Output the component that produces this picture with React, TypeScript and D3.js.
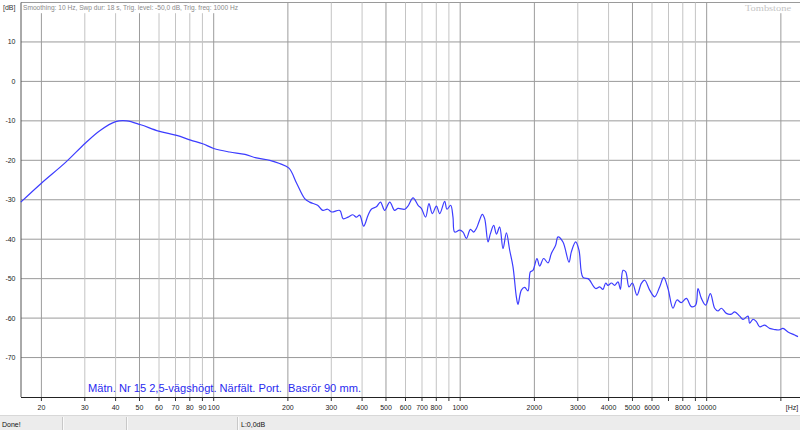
import React from "react";
import * as d3 from "d3";

const freqHz = [16.5, 20, 25, 30.2, 34.5, 40, 44.4, 50.6, 59.8, 70.8, 80.6, 90.2, 100, 116, 134, 149, 169, 185, 202, 217, 234, 245, 264, 277, 290, 301, 325, 335, 351, 367, 379, 391, 406, 423, 436, 457, 475, 494, 518, 542, 559, 596, 614, 644, 675, 696, 724, 747, 771, 801, 826, 865, 884, 915, 935, 950, 995, 1027, 1060, 1100, 1134, 1163, 1192, 1230, 1257, 1297, 1326, 1368, 1403, 1446, 1492, 1540, 1588, 1638, 1690, 1716, 1771, 1827, 1884, 1926, 1973, 2049, 2101, 2181, 2271, 2344, 2440, 2493, 2612, 2763, 2825, 2941, 3034, 3149, 3300, 3353, 3546, 3681, 3796, 3894, 3978, 4107, 4236, 4368, 4467, 4576, 4694, 4841, 4997, 5215, 5434, 5605, 5873, 6152, 6446, 6693, 6966, 7299, 7576, 7895, 8273, 8667, 9024, 9220, 9517, 9907, 10350, 10776, 11113, 11472, 12023, 12596, 12990, 13613, 14040, 14710, 14940, 15410, 15907, 16406, 17190, 18012, 18873, 19650, 20396, 21370, 22751, 23466];

const levelDb = [-30.6, -25.8, -20.6, -15.6, -12.5, -10.2, -10.0, -11.0, -12.6, -13.7, -14.9, -15.8, -17.0, -17.9, -18.5, -19.4, -20.0, -20.8, -22.0, -25.8, -29.7, -30.6, -31.4, -32.7, -32.4, -33.1, -32.7, -34.8, -34.4, -33.8, -34.4, -33.9, -36.7, -33.9, -32.4, -31.8, -30.6, -32.7, -30.6, -32.7, -32.2, -32.4, -31.6, -29.5, -31.4, -32.2, -34.4, -31.0, -33.5, -31.6, -33.5, -30.4, -32.4, -31.4, -34.4, -38.2, -37.7, -38.2, -39.8, -37.5, -38.2, -37.3, -35.6, -33.7, -34.8, -40.7, -38.6, -36.5, -38.7, -36.9, -42.4, -38.4, -42.8, -47.0, -54.6, -56.5, -52.9, -52.2, -53.1, -48.3, -47.9, -44.9, -46.8, -44.9, -46.0, -43.6, -41.5, -39.4, -40.7, -45.8, -43.2, -40.7, -42.8, -49.7, -50.0, -50.4, -52.5, -52.1, -52.7, -51.1, -51.7, -51.1, -51.7, -50.8, -52.7, -47.9, -48.3, -52.1, -51.1, -54.2, -51.2, -50.4, -52.9, -54.6, -52.1, -49.7, -52.5, -57.5, -55.4, -56.1, -55.0, -57.1, -56.7, -52.5, -55.0, -56.7, -53.8, -57.5, -58.2, -57.5, -58.8, -59.0, -58.4, -59.5, -60.3, -59.5, -61.3, -60.3, -60.9, -62.2, -61.8, -62.6, -62.9, -63.0, -62.6, -63.5, -64.3, -64.7];

const gridFreqs = [20, 30, 40, 50, 60, 70, 80, 90, 100, 200, 300, 400, 500, 600, 700, 800, 900, 1000, 2000, 3000, 4000, 5000, 6000, 7000, 8000, 9000, 10000, 20000];
const majorFreqs = [20, 50, 100, 200, 500, 1000, 2000, 5000, 10000, 20000];
const labeledFreqs = [20, 30, 40, 50, 60, 70, 80, 90, 100, 200, 300, 400, 500, 600, 700, 800, 1000, 2000, 3000, 4000, 5000, 6000, 8000, 10000];
const dbTicks = [10, 0, -10, -20, -30, -40, -50, -60, -70];

const headerText = "Smoothing: 10 Hz, Swp dur: 18 s, Trig. level: -50,0 dB, Trig. freq: 1000 Hz";
const noteText = "Mätn. Nr 15 2,5-vägshögt. Närfält. Port.  Basrör 90 mm.";

const W = 800;
const H = 430;
const FONT = "'Liberation Sans', Arial, sans-serif";

export default function App() {
  const x = d3.scaleLog().domain([16.53, 23470]).range([21, 798]);
  const y = d3.scaleLinear().domain([20, -80]).range([2.5, 397]);
  const pts = freqHz.map((f, i) => [f, levelDb[i]] as [number, number]);
  const line = d3
    .line<[number, number]>()
    .x((d) => x(d[0]))
    .y((d) => y(d[1]))
    .curve(d3.curveCatmullRom.alpha(0.5));

  return (
    <svg
      width={W}
      height={H}
      style={{ position: "absolute", left: 0, top: 0, background: "#fff" }}
      fontFamily={FONT}
    >
      <rect x={0} y={0} width={W} height={H} fill="#fff" />
      {dbTicks.map((v) => (
        <line key={"h" + v} x1={21} x2={W} y1={y(v)} y2={y(v)} stroke="#9a9a9a" strokeWidth={1} />
      ))}
      <line x1={21} x2={W} y1={y(20)} y2={y(20)} stroke="#9a9a9a" strokeWidth={1} />
      {gridFreqs.map((f) => (
        <line
          key={"v" + f}
          x1={x(f)}
          x2={x(f)}
          y1={y(20)}
          y2={397}
          stroke={majorFreqs.includes(f) ? "#9c9c9c" : "#c4c4c4"}
          strokeWidth={1}
        />
      ))}
      <rect x={22} y={3.2} width={220} height={10} fill="#fff" />
      <text x={23} y={9.5} fontSize={6.5} fill="#8a8a8a" textLength={215} lengthAdjust="spacingAndGlyphs">
        {headerText}
      </text>
      <rect x={742} y={3.2} width={56} height={10} fill="#fff" />
      <text x={745} y={10.5} fontSize={8} fill="#c4c4c4" fontFamily="'Liberation Serif', serif" textLength={46} lengthAdjust="spacingAndGlyphs">
        Tombstone
      </text>
      <text x={3} y={9.5} fontSize={7} fill="#333">[dB]</text>
      {dbTicks.map((v) => (
        <text key={"yl" + v} x={15.5} y={y(v) + 2.5} fontSize={7} fill="#222" textAnchor="end">
          {v}
        </text>
      ))}
      <line x1={21} x2={21} y1={y(20)} y2={397} stroke="#555" strokeWidth={1} />
      <line x1={21} x2={W} y1={397.5} y2={397.5} stroke="#222" strokeWidth={1} />
      {gridFreqs.map((f) => (
        <line key={"t" + f} x1={x(f)} x2={x(f)} y1={397.5} y2={401} stroke="#333" strokeWidth={1} />
      ))}
      {labeledFreqs.map((f) => (
        <text key={"xl" + f} x={x(f)} y={410} fontSize={7} fill="#222" textAnchor="middle">
          {f}
        </text>
      ))}
      <text x={792} y={410} fontSize={7} fill="#222" textAnchor="middle">[Hz]</text>
      <path d={line(pts) || ""} fill="none" stroke="#3c3cff" strokeWidth={1.2} strokeLinejoin="round" />
      <text
        x={88}
        y={392}
        fontSize={10.5}
        fill="#2a2af0"
        textLength={273}
        lengthAdjust="spacingAndGlyphs"
        style={{ whiteSpace: "pre" }}
      >
        {noteText}
      </text>
      <rect x={0} y={415.5} width={W} height={14.5} fill="#ececec" />
      <line x1={0} x2={W} y1={415.5} y2={415.5} stroke="#d8d8d8" />
      {[62.5, 126.5, 237.5].map((sx) => (
        <g key={"sb" + sx}>
          <line x1={sx} x2={sx} y1={417} y2={430} stroke="#c8c8c8" />
          <line x1={sx + 1} x2={sx + 1} y1={417} y2={430} stroke="#fafafa" />
        </g>
      ))}
      <text x={2} y={426.5} fontSize={7} fill="#111">Done!</text>
      <text x={241} y={426.5} fontSize={7} fill="#111">L:0,0dB</text>
    </svg>
  );
}
